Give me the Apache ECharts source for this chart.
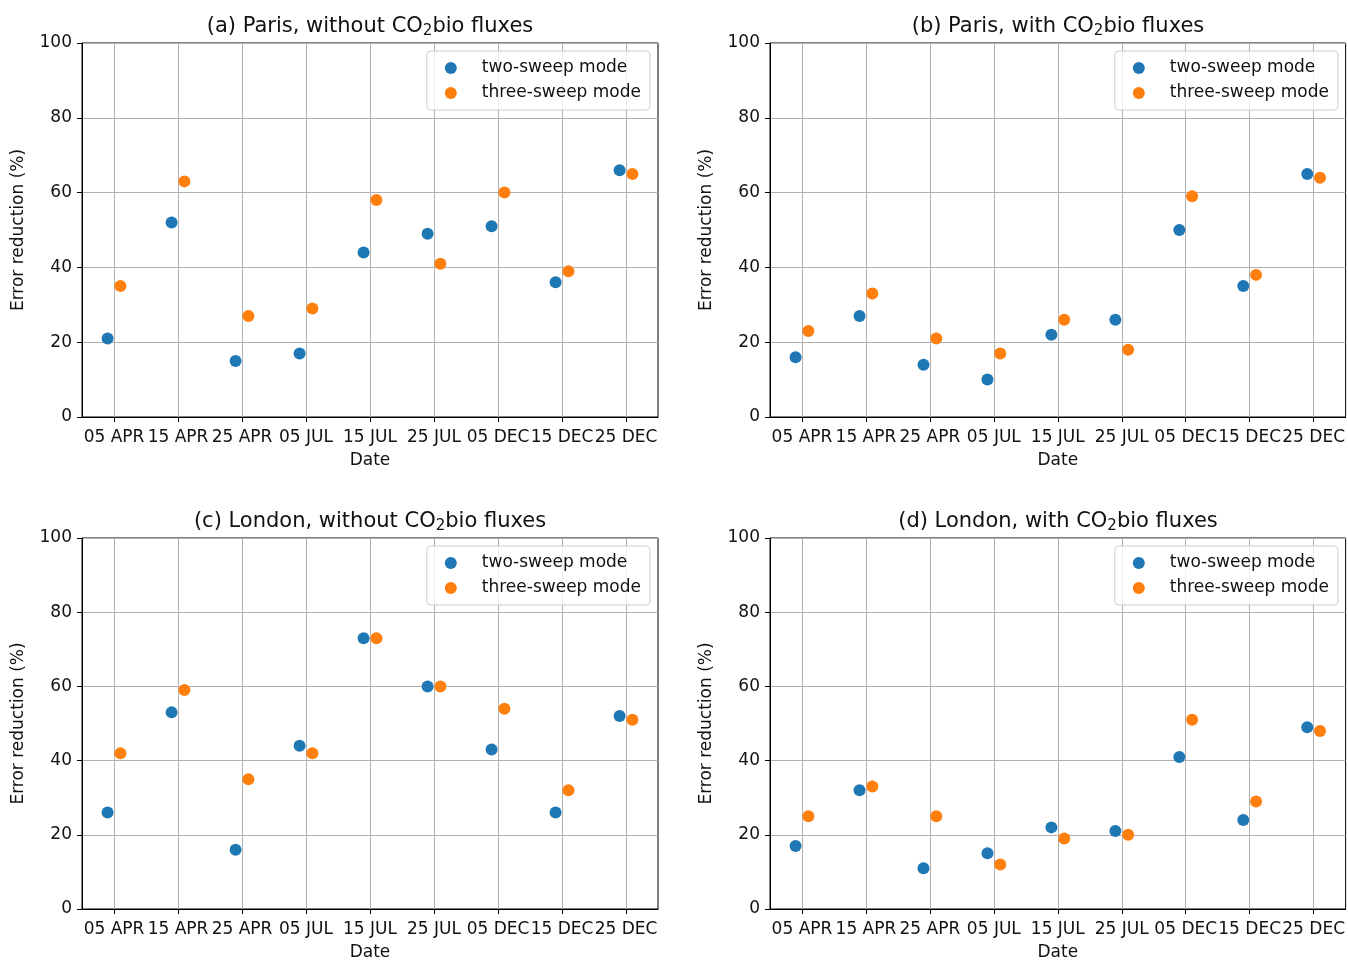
<!DOCTYPE html>
<html>
<head>
<meta charset="utf-8">
<script src="https://cdn.jsdelivr.net/npm/echarts@6/dist/echarts.min.js"></script>
<style>html,body{margin:0;padding:0;background:#fff}#c{width:1348px;height:962px}</style>
</head>
<body>
<div id="c"></div>
<script>
const categories = ['05 APR','15 APR','25 APR','05 JUL','15 JUL','25 JUL','05 DEC','15 DEC','25 DEC'];
const seriesNames = ['two-sweep mode','three-sweep mode'];
const yTicks = [0, 20, 40, 60, 80, 100];

const parisWithoutTwo   = [21, 52, 15, 17, 44, 49, 51, 36, 66];
const parisWithoutThree = [35, 63, 27, 29, 58, 41, 60, 39, 65];
const parisWithTwo      = [16, 27, 14, 10, 22, 26, 50, 35, 65];
const parisWithThree    = [23, 33, 21, 17, 26, 18, 59, 38, 64];
const londonWithoutTwo   = [26, 53, 16, 44, 73, 60, 43, 26, 52];
const londonWithoutThree = [42, 59, 35, 42, 73, 60, 54, 32, 51];
const londonWithTwo      = [17, 32, 11, 15, 22, 21, 41, 24, 49];
const londonWithThree    = [25, 33, 25, 12, 19, 20, 51, 29, 48];

const panels = [
  {title: ['(a) Paris, without CO', 'bio fluxes'], two: parisWithoutTwo, three: parisWithoutThree},
  {title: ['(b) Paris, with CO', 'bio fluxes'], two: parisWithTwo, three: parisWithThree},
  {title: ['(c) London, without CO', 'bio fluxes'], two: londonWithoutTwo, three: londonWithoutThree},
  {title: ['(d) London, with CO', 'bio fluxes'], two: londonWithTwo, three: londonWithThree}
];

const FONT = 'DejaVu Sans';
const colors = ['#1f77b4', '#ff7f0e'];
const gridPos = [
  {left: 82, top: 43}, {left: 770, top: 43},
  {left: 82, top: 538}, {left: 770, top: 538}
];
const GW = 576, GH = 374;
const offset = 0.1;

const option = {
  animation: false,
  backgroundColor: '#fff',
  textStyle: {fontFamily: FONT},
  title: [], grid: [], xAxis: [], yAxis: [], series: [], legend: []
};

panels.forEach((p, k) => {
  const g = gridPos[k];
  option.title.push({
    text: '{t|' + p.title[0] + '}{s|2}{t|' + p.title[1] + '}',
    left: g.left + GW / 2, top: g.top - 29, textAlign: 'center', padding: 0,
    textStyle: {
      fontWeight: 'normal',
      rich: {
        t: {fontFamily: FONT, fontSize: 21, fontWeight: 'normal', color: '#111', lineHeight: 25},
        s: {fontFamily: FONT, fontSize: 15, fontWeight: 'normal', color: '#111', lineHeight: 25, padding: [10, 0, 0, 0]}
      }
    }
  });
  option.grid.push({
    left: g.left, top: g.top, width: GW, height: GH,
    show: true, borderColor: '#000', borderWidth: 1, backgroundColor: 'transparent'
  });
  option.xAxis.push({
    gridIndex: k, type: 'value', min: -0.5, max: 8.5,
    name: 'Date', nameLocation: 'middle', nameGap: 35,
    nameTextStyle: {fontFamily: FONT, fontSize: 17, color: '#111'},
    axisLine: {show: true, onZero: false, lineStyle: {color: '#000', width: 1}},
    axisTick: {show: true, length: 5, lineStyle: {color: '#000', width: 1}, customValues: categories.map((c, i) => i)},
    axisLabel: {
      show: true, margin: 12, fontFamily: FONT, fontSize: 17, color: '#111',
      customValues: categories.map((c, i) => i),
      formatter: v => categories[Math.round(v)] || ''
    },
    splitLine: {show: true, lineStyle: {color: '#b0b0b0', width: 1}}
  });
  option.yAxis.push({
    gridIndex: k, type: 'value', min: 0, max: 100, interval: 20,
    name: 'Error reduction (%)', nameLocation: 'middle', nameGap: 55,
    nameTextStyle: {fontFamily: FONT, fontSize: 17, color: '#111'},
    axisLine: {show: true, onZero: false, lineStyle: {color: '#000', width: 1}},
    axisTick: {show: true, length: 5, lineStyle: {color: '#000', width: 1}},
    axisLabel: {show: true, margin: 10, fontFamily: FONT, fontSize: 17, color: '#111',
      formatter: v => (yTicks.indexOf(v) >= 0 ? String(v) : '')},
    splitLine: {show: true, lineStyle: {color: '#b0b0b0', width: 1}}
  });
  [p.two, p.three].forEach((vals, s) => {
    option.series.push({
      type: 'scatter', name: seriesNames[s], xAxisIndex: k, yAxisIndex: k,
      symbol: 'circle', symbolSize: 12,
      itemStyle: {color: colors[s], opacity: 1},
      data: vals.map((v, i) => [i + (s === 0 ? -offset : offset), v]),
      z: 3
    });
  });
  option.legend.push({
    data: seriesNames.map((n, s) => ({name: n, itemStyle: {color: colors[s]}})),
    orient: 'vertical',
    right: 1348 - (g.left + GW - 8), top: g.top + 8,
    icon: 'circle', itemWidth: 24, itemHeight: 12, itemGap: 5,
    padding: [7, 9, 7, 18],
    backgroundColor: 'rgba(255,255,255,0.8)', borderColor: '#cccccc', borderWidth: 1, borderRadius: 4,
    textStyle: {fontFamily: FONT, fontSize: 17, color: '#111', lineHeight: 20, padding: [0, 0, 0, 14]},
    selectedMode: false
  });
});

const chart = echarts.init(document.getElementById('c'), null, {renderer: 'canvas'});
chart.setOption(option);
</script>
</body>
</html>
